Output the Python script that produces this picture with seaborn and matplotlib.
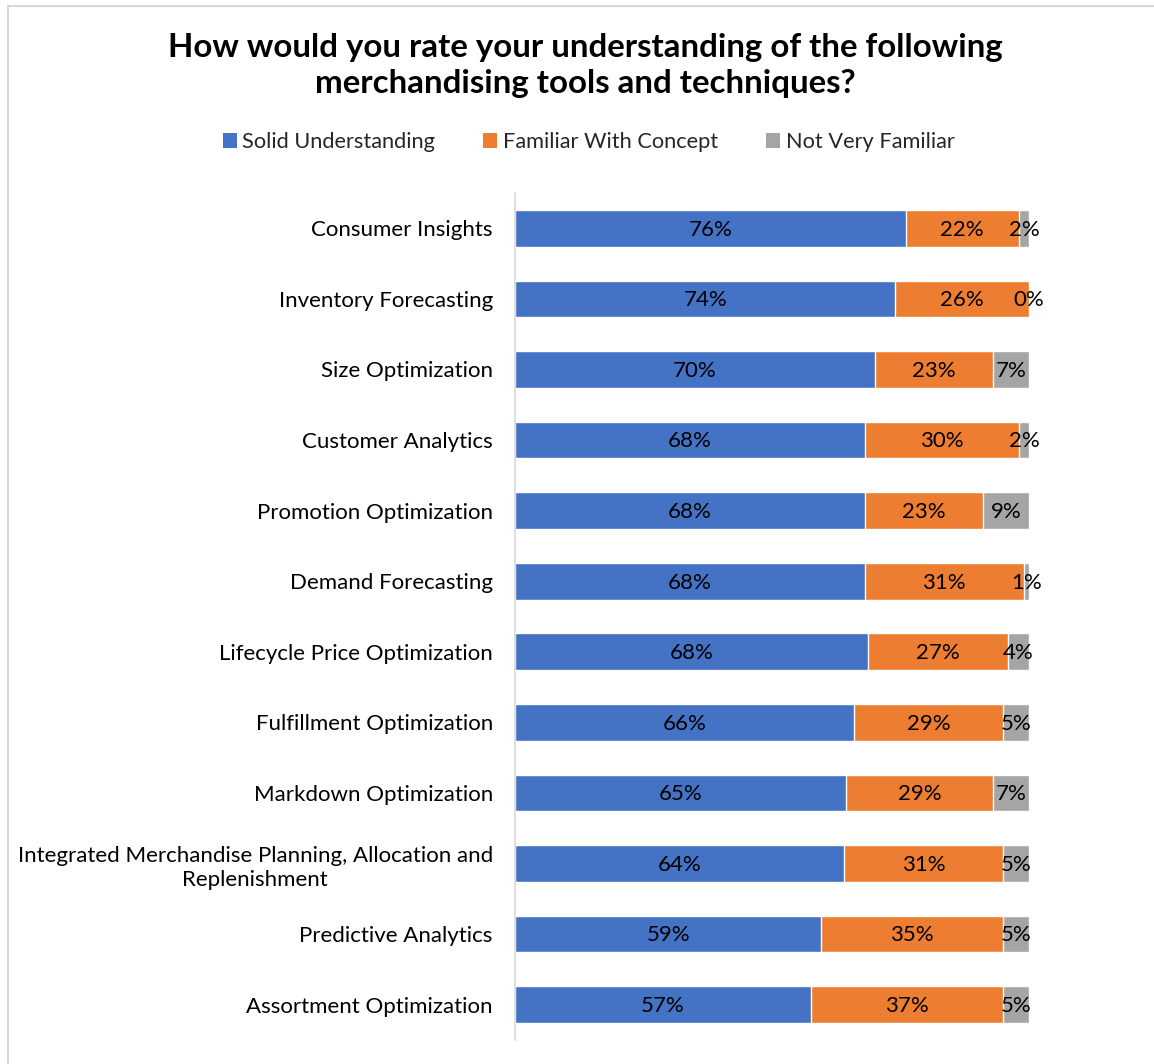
import matplotlib
matplotlib.use("Agg")
import matplotlib.pyplot as plt
from matplotlib.patches import Patch
from matplotlib.lines import Line2D
import seaborn as sns
import pandas as pd
import numpy as np

# Survey results (percent of respondents)
tools = [
    "Consumer Insights",
    "Inventory Forecasting",
    "Size Optimization",
    "Customer Analytics",
    "Promotion Optimization",
    "Demand Forecasting",
    "Lifecycle Price Optimization",
    "Fulfillment Optimization",
    "Markdown Optimization",
    "Integrated Merchandise Planning, Allocation and\nReplenishment",
    "Predictive Analytics",
    "Assortment Optimization",
]
solid = [76, 74, 70, 68, 68, 68, 68, 66, 65, 64, 59, 57]
familiar = [22, 26, 23, 30, 23, 31, 27, 29, 29, 31, 35, 37]
not_familiar = [2, 0, 7, 2, 9, 1, 4, 5, 7, 5, 5, 5]

series_names = ["Solid Understanding", "Familiar With Concept", "Not Very Familiar"]
colors = ["#4472C4", "#ED7D31", "#A5A5A5"]

title = ("How would you rate your understanding of the following\n"
         "merchandising tools and techniques?")

sns.set_theme(style="white")
plt.rcParams["font.family"] = ["Lato", "DejaVu Sans"]

df = pd.DataFrame({
    "tool": tools,
    "solid": solid,
    "familiar": familiar,
    "not_familiar": not_familiar,
})
# 100% stacked: each row is scaled to its own total
total = df["solid"] + df["familiar"] + df["not_familiar"]
df["s_solid"] = df["solid"] / total * 100
df["s_familiar"] = df["familiar"] / total * 100
df["s_not"] = df["not_familiar"] / total * 100
df["cum_solid"] = df["s_solid"]
df["cum_familiar"] = df["s_solid"] + df["s_familiar"]
df["cum_total"] = df["cum_familiar"] + df["s_not"]

fig = plt.figure(figsize=(11.54, 10.64), dpi=100)
ax = fig.add_axes([0.4463, 0.0226, 0.4454, 0.796])

# Stacked bars drawn back-to-front from cumulative totals
for col, color in zip(["cum_total", "cum_familiar", "cum_solid"], colors[::-1]):
    sns.barplot(data=df, x=col, y="tool", order=tools, orient="h",
                color=color, width=0.52, saturation=1, ax=ax)

# Segment value labels
fs = 16
for i, row in df.iterrows():
    segments = [(0, row["s_solid"], row["solid"]),
                (row["cum_solid"], row["s_familiar"], row["familiar"]),
                (row["cum_familiar"], row["s_not"], row["not_familiar"])]
    for left, w, v in segments:
        ax.text(left + w / 2, i + 0.02, f"{v}%", ha="center", va="center",
                fontsize=fs, color="black")

ax.set_xlim(0, 100)
ax.set_ylim(len(tools) - 0.5, -0.5)
ax.set_xlabel("")
ax.set_ylabel("")
ax.set_xticks([])
for s in ["top", "right", "bottom"]:
    ax.spines[s].set_visible(False)
ax.spines["left"].set_color("#D9D9D9")
ax.spines["left"].set_linewidth(1.2)
ax.tick_params(axis="y", length=0, pad=16, labelsize=fs, colors="black")
for lab in ax.get_yticklabels():
    lab.set_multialignment("center")
    lab.set_linespacing(1.3)

# Title and legend
fig.text(0.507, 0.9385, title, ha="center", va="center", fontsize=23.8,
         fontweight="bold", linespacing=1.3, color="black")

handles = [Patch(facecolor=c, edgecolor="none") for c in colors]
fig.legend(handles, series_names, loc="center", bbox_to_anchor=(0.510, 0.8665),
           ncol=3, frameon=False, fontsize=fs - 0.3, handlelength=0.65,
           handleheight=0.65, handletextpad=0.25, columnspacing=2.2)

# Chart border
fig.add_artist(Line2D([8 / 1154, 8 / 1154], [0, 1 - 6 / 1064],
                      transform=fig.transFigure, color="#D9D9D9", lw=1.5))
fig.add_artist(Line2D([8 / 1154, 1], [1 - 6 / 1064, 1 - 6 / 1064],
                      transform=fig.transFigure, color="#D9D9D9", lw=1.5))

fig.savefig("out.png", dpi=100, facecolor="white")
